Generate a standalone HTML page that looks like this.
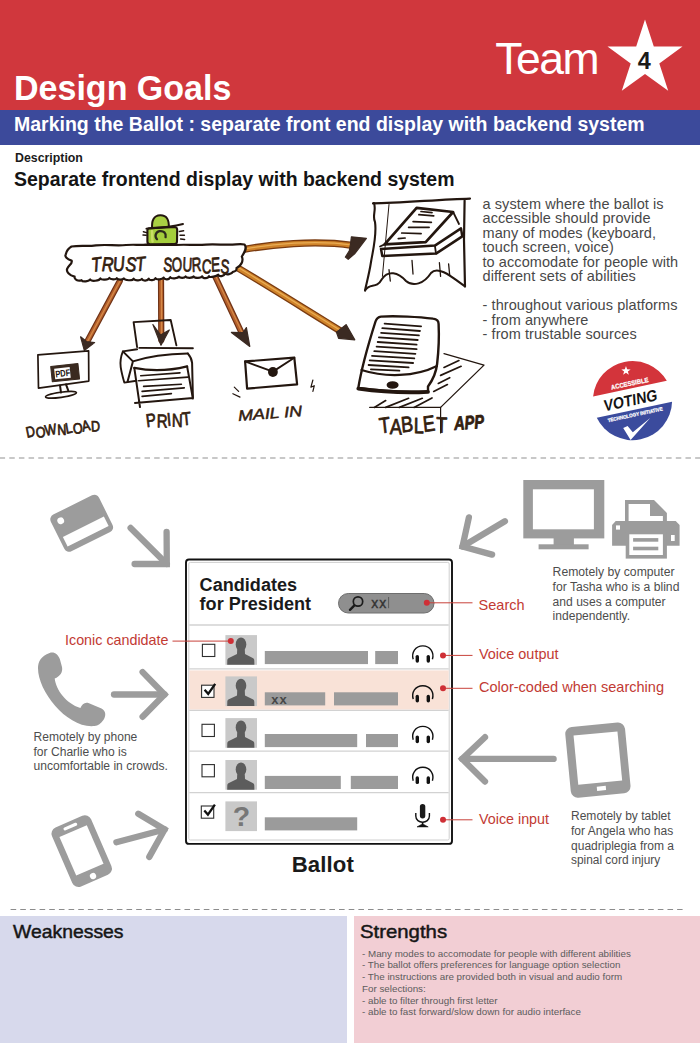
<!DOCTYPE html>
<html lang="en">
<head>
<meta charset="utf-8">
<title>Design Goals - Team 4</title>
<style>
html,body{margin:0;padding:0;}
body{width:700px;height:1050px;position:relative;overflow:hidden;background:#fff;font-family:"Liberation Sans",sans-serif;color:#111;}
.abs{position:absolute;white-space:nowrap;}
#red{left:0;top:0;width:700px;height:110.4px;background:#d0373d;}
#blue{left:0;top:110.4px;width:700px;height:34.2px;background:#3c4a9b;}
#h1{left:13.8px;top:68.6px;font-size:34.2px;font-weight:bold;color:#fff;line-height:38px;transform:scaleX(0.995);transform-origin:0 0;}
#team{left:495.3px;top:35.4px;font-size:44.5px;color:#fff;line-height:48px;letter-spacing:-1.5px;}
#h2{left:14px;top:112.8px;font-size:19.5px;font-weight:bold;color:#fff;line-height:22px;transform:scaleX(1.0);transform-origin:0 0;}
#desc{left:14.5px;top:150.8px;font-size:12.6px;font-weight:bold;line-height:14px;color:#1a1a1a;transform:scaleX(0.98);transform-origin:0 0;}
#h3{left:14px;top:168px;font-size:19.6px;font-weight:bold;line-height:22px;color:#141414;transform:scaleX(0.994);transform-origin:0 0;}
#para{left:482.5px;top:196.9px;font-size:14.5px;line-height:14.46px;color:#484848;white-space:pre;letter-spacing:.08px;}
#weak{left:0;top:916px;width:346.9px;height:126.7px;background:#d7d9ec;}
#strong{left:354.1px;top:916px;width:346px;height:126.7px;background:#f2ced4;}
.bt{font-size:17.7px;font-weight:normal;line-height:20px;color:#161616;-webkit-text-stroke:0.45px #161616;transform-origin:0 0;}
#stxt{left:362px;top:947.6px;font-size:9.8px;line-height:11.75px;color:#5c5c5c;white-space:pre;}
svg{position:absolute;left:0;top:0;}
</style>
</head>
<body>
<div id="red" class="abs"></div>
<div id="blue" class="abs"></div>
<div id="h1" class="abs">Design Goals</div>
<div id="team" class="abs">Team</div>
<div id="h2" class="abs">Marking the Ballot : separate front end display with backend system</div>
<div id="desc" class="abs">Description</div>
<div id="h3" class="abs">Separate frontend display with backend system</div>
<div id="para" class="abs">a system where the ballot is
accessible should provide
many of modes (keyboard,
touch screen, voice)
to accomodate for people with
different sets of abilities

- throughout various platforms
- from anywhere
- from trustable sources</div>


<div id="weak" class="abs"></div>
<div id="strong" class="abs"></div>
<div class="abs bt" style="left:12.6px;top:922.2px;transform:scaleX(1.095);">Weaknesses</div>
<div class="abs bt" style="left:360px;top:922.2px;transform:scaleX(1.15);">Strengths</div>
<div id="stxt" class="abs">- Many modes to accomodate for people with different abilities
- The ballot offers preferences for language option selection
- The instructions are provided both in visual and audio form
For selections:
- able to filter through first letter
- able to fast forward/slow down for audio interface</div>

<!--SVG-MAIN-->
<svg id="art" width="700" height="1050" viewBox="0 0 700 1050">
<line x1="0" y1="458" x2="700" y2="458" stroke="#b7b7b7" stroke-width="1.7" stroke-dasharray="5.5 4.16" stroke-dashoffset="0.4"/>
<line x1="10.6" y1="909.5" x2="682.6" y2="909.5" stroke="#8c8c8c" stroke-width="1" stroke-dasharray="5.6 4.06"/>
<!-- star -->
<g id="star">
<polygon fill="#fff" points="645,19.4 653.8,46.6 682.5,46.6 659.3,63.5 668.2,90.7 645,73.9 621.8,90.7 630.7,63.5 607.5,46.6 636.2,46.6"/>
<text x="644.2" y="68.6" text-anchor="middle" font-family="Liberation Sans, sans-serif" font-weight="bold" font-size="23.4" fill="#1a1a1a">4</text>
</g>
<!--SKETCH-START-->
<g id="sketch" fill="none" stroke="#23160f" stroke-width="2" stroke-linecap="round" stroke-linejoin="round" font-family="Liberation Sans, sans-serif">
<!-- marker arrows -->
<path d="M119.8 281 L86.2 343.5" stroke="#6e3216" stroke-width="6.2"/>
<path d="M161 278 L161.3 340" stroke="#6e3216" stroke-width="6.2"/>
<path d="M214.5 275 L243.6 337" stroke="#6e3216" stroke-width="6.2"/>
<path d="M237.9 268 C270 287 308 311 341.5 331.6" stroke="#7a3b10" stroke-width="7.2"/>
<path d="M242.1 249.8 C270 244.5 315 240 352 245.4" stroke="#7a3b10" stroke-width="7.2"/>
<path d="M119.8 281 L86.2 343.5" stroke="#b45f2b" stroke-width="3.8"/>
<path d="M161 278 L161.3 340" stroke="#b45f2b" stroke-width="3.8"/>
<path d="M214.5 275 L243.6 337" stroke="#b45f2b" stroke-width="3.8"/>
<path d="M237.9 268 C270 287 308 311 341.5 331.6" stroke="#cf8229" stroke-width="4.6"/>
<path d="M242.1 249.8 C270 244.5 315 240 352 245.4" stroke="#cf8229" stroke-width="4.6"/>
<path d="M119.8 281 L86.2 343.5" stroke="#d58a48" stroke-width="1.2" transform="translate(0.4 -0.4)"/>
<path d="M161 278 L161.3 340" stroke="#d58a48" stroke-width="1.2" transform="translate(0.4 -0.4)"/>
<path d="M214.5 275 L243.6 337" stroke="#d58a48" stroke-width="1.2" transform="translate(0.4 -0.4)"/>
<path d="M237.9 268 C270 287 308 311 341.5 331.6" stroke="#e9ad55" stroke-width="1.2" transform="translate(0.4 -0.4)"/>
<path d="M242.1 249.8 C270 244.5 315 240 352 245.4" stroke="#e9ad55" stroke-width="1.2" transform="translate(0.4 -0.4)"/>
<g fill="#3b2a22" stroke="#3b2a22" stroke-width="1.2">
<path d="M80.6 336.8 L86.5 341.5 L94.6 342.6 L84.3 350.4 Z"/>
<path d="M152.9 324.6 L160.6 335 L169.3 330 L161 345.2 Z"/>
<path d="M231.4 332.4 L243 332.6 L246.4 327.6 L249.8 346.4 Z"/>
<path d="M336.4 332.1 L346.1 324.6 L354.8 339.8 L338.6 338.3 Z"/>
<path d="M351.4 236.8 L366.4 238.3 L357.9 249.6 L354.6 253.9 L348.2 259.3 L345.4 257.1 L349.3 250.7 L350.5 244 Z"/>
</g>
<!-- cloud -->
<path fill="#fff" stroke-width="2.2" d="M71.5 246.5 C80 245.2 88 246.6 96 245.4 C106 244.2 116 246 126 245 C133 244.4 140 245.2 146 244.6 L176 245 C186 244.2 196 245.6 206 244.6 C216 243.8 226 245.4 236 244.4 C240 244 243 244.2 244.5 244.5 C247.5 248 244.5 252.5 241.8 256.5 C244 261 240.5 266.5 236.5 268 C237 270.5 235 271.5 233 271.8 C232.0 273.9 226.2 275.4 225.2 273.3 C224.2 276.1 219.1 277.4 218.1 274.7 C217.1 276.3 210.0 277.9 209.0 276.2 C208.0 278.8 203.2 278.9 202.2 276.3 C201.2 278.2 194.6 278.4 193.6 276.4 C192.6 278.2 186.6 278.3 185.6 276.5 C184.6 278.3 179.9 278.3 178.9 276.6 C177.9 278.6 171.3 279.1 170.3 277.2 C169.3 279.8 164.7 280.2 163.7 277.6 C162.7 279.5 156.5 280.0 155.5 278.2 C154.5 280.5 149.7 281.0 148.7 278.7 C147.7 281.0 142.8 281.3 141.8 278.9 C140.8 281.0 134.6 280.7 133.6 278.7 C132.6 280.9 124.8 280.7 123.8 278.4 C122.8 280.1 117.8 279.9 116.8 278.2 C115.8 279.9 110.4 279.6 109.4 278.0 C108.4 279.8 101.4 280.3 100.4 278.5 C99.4 280.9 91.1 281.8 90.1 279.4 C89.1 281.5 82.5 282.3 81.5 280.2 C78 281.5 74 279.5 74.6 276.6 C69.5 275.5 65.6 271.5 67.4 268.4 C68.8 265.2 73 263.2 71.6 260.6 C67 259.4 64.4 256.6 65.8 254.2 C66.8 250 69 248 71.5 246.5 Z"/>
<!-- lock -->
<path d="M152.2 228.4 C151.4 220.6 153.8 215.4 160.2 215.2 C166.8 215 169.2 220 168.8 227.6 Z" fill="#a9d043" stroke-width="2"/>
<path d="M149.4 228.2 C156 227.6 168 227.4 174.8 227 C176.6 227.2 177.2 228.4 177.2 230 L177 241.4 C177 243 176 244 174.2 244 L150.2 244.4 C148.4 244.4 147.4 243.4 147.4 241.6 L147.4 230.4 C147.4 229 148 228.4 149.4 228.2 Z" fill="#a4cd3c" stroke-width="2.1"/>
<path d="M152 231 C152.6 235 151.8 239 152.6 241.6" stroke="#c9de66" stroke-width="2.4"/>
<path d="M146.4 228.6 C158 228 170 227.6 183 224" stroke-width="1.9"/>
<path d="M157 239.2 C154.4 236.6 155.4 232.2 159.4 231.2 C163.6 230.4 166.4 233.2 165.6 237.2" stroke-width="2.3" stroke="#2d2a1c"/>
<path d="M179.4 231.4 L183.6 230.8 M180 235.2 L184.4 235.2 M180.6 239 L184.6 239.4 M143.4 231.8 L146.4 232.6 M143 235 L146.2 235.2" stroke-width="1.5"/>
<g fill="#33200f" stroke="#33200f" stroke-width="0.8" stroke-linejoin="round">
<text x="92" y="272" font-size="20" textLength="54" lengthAdjust="spacingAndGlyphs" rotate="-5 3 -4 6 -3" dy="0 -0.8 1 -0.6 0.8" font-style="italic" transform="rotate(-1.5 92 272)">TRUST</text>
<text x="163" y="271" font-size="20" textLength="66" lengthAdjust="spacingAndGlyphs" rotate="5 -4 3 -5 4 -3 6" dy="0 0.8 -1 0.8 0.6 -1 0.8" transform="rotate(0.8 163 271)">SOURCES</text>
</g>
<!-- monitor -->
<path d="M37.9 354.8 L88.6 350.9 L88.8 381.1 L38.5 388.2 Z" stroke-width="1.7"/>
<path d="M60 385.4 L61 392.6 M66 384.4 L68.2 390.4"/>
<ellipse cx="61" cy="394.8" rx="15.6" ry="2.6" transform="rotate(-8 61 394.8)" stroke-width="1.6"/>
<g transform="rotate(-6 65 372.6)">
<rect x="51.4" y="365" width="27.4" height="15.4" fill="#3a2a20" stroke="#3a2a20" stroke-width="1"/>
<rect x="54.6" y="367.6" width="15.6" height="10.6" fill="#fff" stroke="none"/>
<text x="55.2" y="376.4" font-size="9.6" font-weight="bold" fill="#23160f" stroke="none" textLength="15" lengthAdjust="spacingAndGlyphs">PDF</text>
</g>
<text x="27" y="437.8" font-size="15" fill="#33200f" stroke="#33200f" stroke-width="0.75" textLength="73.5" lengthAdjust="spacingAndGlyphs" rotate="-6 4 -3 5 -4 3 -5 4" dy="0 0.8 -0.8 0.6 -0.4 0.8 -1 0.6" transform="rotate(-6.2 27 437.8)">DOWNLOAD</text>
<!-- printer -->
<path d="M137.1 347.1 L133.6 322.1 L170.7 320 L176.4 345.4" stroke-width="1.9"/>
<path d="M139.3 347.9 L192.9 348.3 M122.9 351.4 L137.1 349.3" stroke-width="1.9"/>
<path d="M122.9 351.4 C120.6 357 120 362 120.7 367.1 C121.6 373 123 378 124.3 382.6 L136.4 380.7" stroke-width="1.9"/>
<path d="M123.6 352.1 L132.9 361.4 C150 356 170 354 187.9 353.6 M132.9 361.4 L127.6 381.6"/>
<path d="M187.9 353.6 C190.6 356.6 191.8 359.6 192.1 362.9 L192.9 397.6"/>
<path d="M134.3 367.9 C152 371.6 170 370.6 187.1 366.4" stroke-width="2.3"/>
<path d="M134.3 367.9 L140 407.1 M187.1 366.4 L192.9 398.6 M135 402.9 L192.9 397.9"/>
<path d="M140.7 375.7 L180 372.9 M138.6 380.7 L187.9 377.1 M143.6 386.4 L181.4 384.3 M142.1 391.4 L184.3 387.9 M142.1 396.4 L171.4 393.6" stroke-width="1.6"/>
<text x="146.8" y="427.2" font-size="18.5" fill="#33200f" stroke="#33200f" stroke-width="0.75" textLength="45" lengthAdjust="spacingAndGlyphs" rotate="-5 4 -3 5 -3" dy="0 0.6 -0.8 0.8 -0.4" transform="rotate(-3 146.8 427.2)">PRINT</text>
<!-- envelope -->
<path d="M245.1 361.4 L294.3 357.7 L297.1 384.3 L247.1 388.6 Z" stroke-width="2.2"/>
<path d="M245.1 361.4 L272.9 371.6 L294.3 357.7" stroke-width="1.9"/>
<circle cx="272.9" cy="372" r="4.9" fill="#23160f" stroke="none"/>
<path d="M234.3 387.1 L238.6 391.4 M232.9 393.7 L240 397.1 M312.9 380 L310.9 387.1 L314.3 385.7 L312.9 391.4" stroke-width="1.2"/>
<text x="238.5" y="421" font-size="15" font-style="italic" fill="#33200f" stroke="#33200f" stroke-width="0.5" textLength="64" lengthAdjust="spacingAndGlyphs" transform="rotate(-4.5 238.5 421)">MAIL IN</text>
<!-- booth -->
<path d="M373 203.4 C400 203 440 199.5 470 198.6" stroke-width="2.2"/>
<path d="M464.6 200.5 L464 240 L465 286.5" stroke-width="2.2"/>
<path d="M374 203 C376.5 210 372 216 375 222 C377 235 373 250 371 262 C369 275 366 285 365 290.5" stroke-width="2.1"/>
<path d="M365 290.5 C370 282 376 290 382 279 C388 270 398 272 406 281 C413 287 424 284 431 273 C438 265 452 277 465 286.5" stroke-width="2"/>
<path d="M389 204.5 L382.4 276.4" stroke-width="1"/>
<path d="M412 260.4 L413 274 M439.4 262.7 L440.6 276.4 M448.6 263.9 L449.7 275.3 M389 269.6 L390.3 281" stroke-width="1.3"/>
<path d="M416.6 207.9 L453.1 212 L425.7 242.1 L384.6 244.4 Z" stroke-width="2.7"/>
<path d="M418.9 214.7 L433.7 215.9 M413.1 221.6 L431.4 222.3 M408.6 227.3 L429.1 227.3 M401.7 233 L421.1 233.7 M398.3 238.7 L405.1 238 M421 211.5 L432 212.6" stroke-width="1.7"/>
<path d="M381 249 L434.9 245.6 L461 228.4 L462.3 236.4 L436 253.6 L382.3 255.9 Z" stroke-width="2.5"/>
<path d="M434.9 245.6 L436 253.6 M453.1 212 L459 224 M380 246.5 L384.6 244.4" stroke-width="1.8"/>
<!-- tablet -->
<path d="M444 353.7 L484 365.1 L440.6 407.4 L369.7 407.4" stroke-width="1.3"/>
<path d="M444 367.4 L458.9 360.6 M440.6 375.4 L461.1 366.3 M438.3 383.4 L449.7 377.7 M433.7 391.4 L447.4 384.6 M385.7 407.4 L408.6 398.3 M399.4 407.4 L422.3 398.3 M374.3 407.4 L385.7 400.6 M414 407.4 L432 398" stroke-width="1.7"/>
<path d="M440.6 407.4 L440.6 433" stroke-width="1.2"/>
<path fill="#fff" d="M381 316.6 C395 315.5 420 317 433 318.6 C437 319 438.6 320.5 438.6 324 C439.3 338 438.5 352 437.1 364 C436 374 432 381 428 386.5 L428 391.4 C405 392.5 380 391 358.3 388 C362 365 369 342 375.5 321.5 C376.5 318.5 378 317 381 316.6 Z" stroke-width="2.4"/>
<path d="M358.3 388.6 C380 391.6 405 393.1 428 391.8" stroke-width="3.8"/>
<path d="M361.5 370 C385 377.5 415 377 437 366" stroke-width="2.2"/>
<ellipse cx="392.6" cy="385" rx="6" ry="3.8" fill="#23160f" stroke="none"/>
<path d="M384.6 323.6 L421.1 326.4 M382.3 328.2 L420 331 M381.1 332.8 L418.9 335.4 M378.9 337.4 L417.7 340 M377.7 342 L416.6 344.6 M376.6 346.6 L416.6 349.2 M374.3 351.2 L415.4 353.8 M372 355.8 L414.3 358.4 M369.7 360.4 L413.1 363 M368.6 365 L408.6 367.4 M370.9 369.4 L399.4 370.6" stroke-width="1.8"/>
<g fill="#33200f" stroke="#33200f" stroke-width="0.8" stroke-linejoin="round">
<text x="380" y="433.5" font-size="22" textLength="67" lengthAdjust="spacingAndGlyphs" rotate="-5 4 -4 3 -5 4" dy="0 0.8 -1 0.8 -0.5 0.6" transform="rotate(-2 380 433.5)">TABLET</text>
<text x="454.5" y="430" font-size="19" font-weight="bold" font-style="italic" textLength="30" lengthAdjust="spacingAndGlyphs" transform="rotate(-4 454.5 430)">APP</text>
</g>
</g>
<!--SKETCH-END-->
<g id="badge" transform="translate(632.5 400.6) rotate(-12)" font-family="Liberation Sans, sans-serif" font-weight="bold">
<circle r="39.6" fill="#fff"/>
<path d="M-37.67 -12.2 A39.6 39.6 0 0 1 37.67 -12.2 Z" fill="#d3343b"/>
<path d="M-38.49 9.3 A39.6 39.6 0 0 0 38.49 9.3 Z" fill="#3b4b9d"/>
<polygon points="-0.20,-35.30 0.95,-31.98 4.46,-31.91 1.65,-29.80 2.68,-26.44 -0.20,-28.45 -3.08,-26.44 -2.05,-29.80 -4.86,-31.91 -1.35,-31.98" fill="#fff" transform="rotate(12 -0.2 -30.4)"/>
<text x="0.8" y="-15" text-anchor="middle" font-size="6.6" fill="#fff" stroke="#fff" stroke-width="0.25" textLength="38" lengthAdjust="spacingAndGlyphs">ACCESSIBLE</text>
<text x="-2" y="4.8" text-anchor="middle" font-size="15.8" fill="#141414" textLength="54.5" lengthAdjust="spacingAndGlyphs" transform="skewX(-8)">VOTING</text>
<text x="-0.3" y="16" text-anchor="middle" font-size="5" fill="#fff" stroke="#fff" stroke-width="0.25" textLength="56" lengthAdjust="spacingAndGlyphs">TECHNOLOGY INITIATIVE</text>

</g>
<polygon points="623.2,428.1 630.6,439.9 650.2,417.9 632.8,432.3 627.6,425.9" fill="#fff"/>
<g id="icons" fill="#9c9c9c" stroke="none">
<g transform="translate(81.7 523.3) rotate(-26.4) scale(1.06)"><rect x="-25.4" y="-19.3" width="50.8" height="38.6" rx="5" fill="#9c9c9c"/><rect x="-21.6" y="3.6" width="43.2" height="10" fill="#fff"/><circle cx="-16.7" cy="-10.9" r="3.2" fill="#fff"/></g>
<g fill="none" stroke="#9c9c9c" stroke-width="6.3" stroke-linecap="round" stroke-linejoin="miter"><line x1="130.6" y1="527.9" x2="166.8" y2="564"/><polyline points="166.6,532 166.8,564 134.6,564"/></g>
<g fill="none" stroke="#9c9c9c" stroke-width="6.3" stroke-linecap="round" stroke-linejoin="miter"><line x1="114" y1="694.5" x2="164.5" y2="694.5"/><polyline points="142.6,672.1 164.5,694.5 142.6,716.8"/></g>
<g fill="none" stroke="#9c9c9c" stroke-width="6.3" stroke-linecap="round" stroke-linejoin="miter"><line x1="116.4" y1="842.2" x2="164.6" y2="829.5"/><polyline points="138.3,813.7 164.6,829.5 149.3,856.9"/></g>
<g fill="none" stroke="#9c9c9c" stroke-width="6.3" stroke-linecap="round" stroke-linejoin="miter"><line x1="504.9" y1="521.2" x2="462.5" y2="546.5"/><polyline points="468.9,517.4 462.5,546.5 492.1,554.6"/></g>
<g fill="none" stroke="#9c9c9c" stroke-width="6.3" stroke-linecap="round" stroke-linejoin="miter"><line x1="553.6" y1="758.9" x2="462.2" y2="758.9"/><polyline points="485,737.2 462.2,758.9 485,781.6"/></g>
<path d="M49.6 652.9 C54 651.3 58 654 59.9 659.3 L62 667 C63 672.5 60 676.3 54.7 678.6 C56 690 66 703.5 80.4 708.1 C82 704 85 701.6 89 703.2 L101.5 708.6 C106 710.8 106.2 716 103.6 719.7 C101 723.5 98 725.6 94.6 726.1 C68 729 38 692 38 668.3 C38 661.5 41 656 49.6 652.9 Z"/>
<g transform="translate(81.7 851.1) rotate(-23.5) scale(1.05)"><rect x="-20.3" y="-30.6" width="40.6" height="61.2" rx="6.4" fill="#9c9c9c"/><rect x="-14.1" y="-20.7" width="28.4" height="40" fill="#fff"/><rect x="-7.6" y="-27.2" width="14" height="3" rx="1.5" fill="#fff"/><circle cx="0.4" cy="26.1" r="3" fill="#fff"/></g>
<rect x="523.3" y="480" width="81" height="58.4" fill="#9c9c9c"/><rect x="532.9" y="489.3" width="61" height="40" fill="#fff"/><rect x="553.6" y="538" width="20.3" height="7" fill="#9c9c9c"/><rect x="538.6" y="544.3" width="50" height="5" fill="#9c9c9c"/>
<path d="M625 500 L654 500 L666.9 512.9 L666.9 522 L625 522 Z"/><path d="M628.6 503.9 L650 503.9 L650 516.1 L662.9 516.1 L662.9 521.5 L628.6 521.5 Z" fill="#fff"/><path d="M612.1 525 L615.7 521.1 L675.7 521.1 L679.6 525 L679.6 545.7 L612.1 545.7 Z"/><rect x="616" y="525.4" width="4" height="4.2" fill="#fff"/><rect x="671" y="535" width="3.7" height="6" fill="#fff"/><rect x="625.7" y="532.9" width="41.2" height="25.7" fill="#9c9c9c"/><rect x="629.3" y="534.3" width="33.6" height="20.7" fill="#fff"/><rect x="633.1" y="538.1" width="25.2" height="3.6" fill="#9c9c9c"/><rect x="633.1" y="546.7" width="25.2" height="3.6" fill="#9c9c9c"/>
<g transform="translate(597.9 760.1) rotate(-5.5)"><rect x="-30" y="-35.5" width="60" height="71" rx="7" fill="#9c9c9c"/><rect x="-21.9" y="-26.7" width="44.1" height="49.3" fill="#fff"/><rect x="-3.7" y="26.4" width="9" height="4.2" fill="#fff"/></g>
</g>
<g id="notes" font-family="Liberation Sans, sans-serif" font-size="12.5" fill="#4d4d4d">
<text x="552.6" y="576.4" textLength="122" lengthAdjust="spacingAndGlyphs">Remotely by computer</text>
<text x="552.6" y="591.1" textLength="126.8" lengthAdjust="spacingAndGlyphs">for Tasha who is a blind</text>
<text x="552.6" y="605.7" textLength="113" lengthAdjust="spacingAndGlyphs">and uses a computer</text>
<text x="552.6" y="620.2" textLength="77.5" lengthAdjust="spacingAndGlyphs">independently.</text>
<text x="33.5" y="740.8" textLength="103.8" lengthAdjust="spacingAndGlyphs">Remotely by phone</text>
<text x="33.5" y="755.6" textLength="93.3" lengthAdjust="spacingAndGlyphs">for Charlie who is</text>
<text x="33.5" y="770.4" textLength="134.3" lengthAdjust="spacingAndGlyphs">uncomfortable in crowds.</text>
<text x="571" y="820.4" textLength="99.6" lengthAdjust="spacingAndGlyphs">Remotely by tablet</text>
<text x="571" y="835" textLength="102.2" lengthAdjust="spacingAndGlyphs">for Angela who has</text>
<text x="571" y="849.6" textLength="103" lengthAdjust="spacingAndGlyphs">quadriplegia from a</text>
<text x="571" y="864.2" textLength="89.2" lengthAdjust="spacingAndGlyphs">spinal cord injury</text>
</g>
<g id="ballot" font-family="Liberation Sans, sans-serif">
<rect x="186" y="559.5" width="266" height="284.4" rx="3" fill="#fff" stroke="#111" stroke-width="1.9"/>
<rect x="188.8" y="562.4" width="260.4" height="277.6" rx="1.5" fill="none" stroke="#cfcfcf" stroke-width="1"/>
<rect x="189.3" y="670.4" width="259.4" height="39.2" fill="#f9e2d7"/>
<line x1="189.3" y1="625" x2="448.7" y2="625" stroke="#d2d2d2" stroke-width="1.3"/>
<line x1="189.3" y1="668.9" x2="448.7" y2="668.9" stroke="#d2d2d2" stroke-width="1.3"/>
<line x1="189.3" y1="710.4" x2="448.7" y2="710.4" stroke="#d2d2d2" stroke-width="1.3"/>
<line x1="189.3" y1="751.2" x2="448.7" y2="751.2" stroke="#d2d2d2" stroke-width="1.3"/>
<line x1="189.3" y1="792.6" x2="448.7" y2="792.6" stroke="#d2d2d2" stroke-width="1.3"/>
<text x="199.6" y="591.1" font-size="18.3" font-weight="bold" fill="#1a1a1a" textLength="97.5" lengthAdjust="spacingAndGlyphs">Candidates</text>
<text x="199.6" y="610.4" font-size="18.3" font-weight="bold" fill="#1a1a1a" textLength="111.5" lengthAdjust="spacingAndGlyphs">for President</text>
<rect x="338.5" y="593.5" width="95.5" height="19.5" rx="9.75" fill="#8f8f8f" stroke="#6e6e6e" stroke-width="1"/>
<circle cx="358" cy="601.5" r="4.7" fill="none" stroke="#1c1c1c" stroke-width="1.7"/><line x1="354.4" y1="605.4" x2="350" y2="609.8" stroke="#1c1c1c" stroke-width="2.4" stroke-linecap="round"/>
<text x="371.3" y="607.6" font-size="14" fill="#333" stroke="#333" stroke-width="0.35" letter-spacing="1">xx</text><line x1="388.6" y1="597" x2="388.6" y2="608.2" stroke="#555" stroke-width="0.9"/>
<rect x="202.4" y="644.3" width="12.4" height="12.2" fill="#fff" stroke="#2e2e2e" stroke-width="1.1"/>
<rect x="225.4" y="635.1" width="31.6" height="29.7" fill="#c9c9c9"/>
<g transform="translate(225.6 635.1)" fill="#5c5c5c"><ellipse cx="15.4" cy="9.4" rx="5.3" ry="7"/><path d="M11.6 14.5 L19.2 14.5 L19.4 19 L27.6 23.2 C28.4 23.8 28.7 24.6 28.7 25.6 L28.8 29.7 L1.6 29.7 L1.7 25.6 C1.7 24.6 2 23.8 2.8 23.2 L11.4 19 Z"/></g>
<rect x="264.8" y="651.0" width="103.2" height="13.1" fill="#9b9b9b"/>
<rect x="375.2" y="651.0" width="22.8" height="13.1" fill="#9b9b9b"/>
<g transform="translate(422.8 654.3)" fill="none" stroke="#111"><path d="M-9.6 5 C-11.6 -1.5 -7.6 -8.4 0 -8.4 C7.6 -8.4 11.6 -1.5 9.6 5" stroke-width="1.4"/><rect x="-7.2" y="0.6" width="3.4" height="7.8" rx="1.7" fill="#111" stroke="none"/><rect x="3.8" y="0.6" width="3.4" height="7.8" rx="1.7" fill="#111" stroke="none"/></g>
<rect x="201.6" y="685.2" width="12.4" height="12.2" fill="#fff" stroke="#2e2e2e" stroke-width="1.1"/>
<path d="M204.6 689.8 L208.2 693.8 L215.2 683.8" fill="none" stroke="#111" stroke-width="2.3" stroke-linejoin="miter"/>
<rect x="225.4" y="676.4" width="31.6" height="29.7" fill="#c9c9c9"/>
<g transform="translate(225.6 676.4)" fill="#5c5c5c"><ellipse cx="15.4" cy="9.4" rx="5.3" ry="7"/><path d="M11.6 14.5 L19.2 14.5 L19.4 19 L27.6 23.2 C28.4 23.8 28.7 24.6 28.7 25.6 L28.8 29.7 L1.6 29.7 L1.7 25.6 C1.7 24.6 2 23.8 2.8 23.2 L11.4 19 Z"/></g>
<rect x="264.8" y="692.3" width="60.4" height="13.1" fill="#9b9b9b"/>
<rect x="334" y="692.3" width="64.0" height="13.1" fill="#9b9b9b"/>
<text x="271.3" y="704.2" font-size="13" font-weight="bold" fill="#474747" letter-spacing="0.9">xx</text>
<g transform="translate(422.8 694.1)" fill="none" stroke="#111"><path d="M-9.6 5 C-11.6 -1.5 -7.6 -8.4 0 -8.4 C7.6 -8.4 11.6 -1.5 9.6 5" stroke-width="1.4"/><rect x="-7.2" y="0.6" width="3.4" height="7.8" rx="1.7" fill="#111" stroke="none"/><rect x="3.8" y="0.6" width="3.4" height="7.8" rx="1.7" fill="#111" stroke="none"/></g>
<rect x="202.0" y="724.3" width="12.4" height="12.2" fill="#fff" stroke="#2e2e2e" stroke-width="1.1"/>
<rect x="225.4" y="718.1" width="31.6" height="29.7" fill="#c9c9c9"/>
<g transform="translate(225.6 718.1)" fill="#5c5c5c"><ellipse cx="15.4" cy="9.4" rx="5.3" ry="7"/><path d="M11.6 14.5 L19.2 14.5 L19.4 19 L27.6 23.2 C28.4 23.8 28.7 24.6 28.7 25.6 L28.8 29.7 L1.6 29.7 L1.7 25.6 C1.7 24.6 2 23.8 2.8 23.2 L11.4 19 Z"/></g>
<rect x="264.8" y="734.0" width="92.4" height="13.1" fill="#9b9b9b"/>
<rect x="366" y="734.0" width="32.0" height="13.1" fill="#9b9b9b"/>
<g transform="translate(422.8 734.8)" fill="none" stroke="#111"><path d="M-9.6 5 C-11.6 -1.5 -7.6 -8.4 0 -8.4 C7.6 -8.4 11.6 -1.5 9.6 5" stroke-width="1.4"/><rect x="-7.2" y="0.6" width="3.4" height="7.8" rx="1.7" fill="#111" stroke="none"/><rect x="3.8" y="0.6" width="3.4" height="7.8" rx="1.7" fill="#111" stroke="none"/></g>
<rect x="202.0" y="764.6" width="12.4" height="12.2" fill="#fff" stroke="#2e2e2e" stroke-width="1.1"/>
<rect x="225.4" y="760.0" width="31.6" height="29.7" fill="#c9c9c9"/>
<g transform="translate(225.6 760.0)" fill="#5c5c5c"><ellipse cx="15.4" cy="9.4" rx="5.3" ry="7"/><path d="M11.6 14.5 L19.2 14.5 L19.4 19 L27.6 23.2 C28.4 23.8 28.7 24.6 28.7 25.6 L28.8 29.7 L1.6 29.7 L1.7 25.6 C1.7 24.6 2 23.8 2.8 23.2 L11.4 19 Z"/></g>
<rect x="264.8" y="775.9" width="76.0" height="13.1" fill="#9b9b9b"/>
<rect x="350.8" y="775.9" width="47.2" height="13.1" fill="#9b9b9b"/>
<g transform="translate(422.8 775.7)" fill="none" stroke="#111"><path d="M-9.6 5 C-11.6 -1.5 -7.6 -8.4 0 -8.4 C7.6 -8.4 11.6 -1.5 9.6 5" stroke-width="1.4"/><rect x="-7.2" y="0.6" width="3.4" height="7.8" rx="1.7" fill="#111" stroke="none"/><rect x="3.8" y="0.6" width="3.4" height="7.8" rx="1.7" fill="#111" stroke="none"/></g>
<rect x="201.3" y="806.0" width="12.4" height="12.2" fill="#fff" stroke="#2e2e2e" stroke-width="1.1"/>
<path d="M204.3 810.6 L207.9 814.6 L214.9 804.6" fill="none" stroke="#111" stroke-width="2.3" stroke-linejoin="miter"/>
<rect x="225.4" y="801.4" width="31.6" height="29.7" fill="#c9c9c9"/>
<text x="241.4" y="825.8" text-anchor="middle" font-size="28.5" font-weight="bold" fill="#777">?</text>
<rect x="264.8" y="817.3" width="92.4" height="13.1" fill="#9b9b9b"/>
<g transform="translate(422.6 815.3)" fill="none" stroke="#111"><rect x="-2.7" y="-11.4" width="5.4" height="14.6" rx="2.7" fill="#1a1a1a" stroke="none"/><path d="M-6.8 -2.2 L-6.8 0.6 C-6.8 9 6.8 9 6.8 0.6 L6.8 -2.2" stroke-width="1.4"/><line x1="0" y1="7" x2="0" y2="10" stroke-width="1.6"/><path d="M-5.6 11.6 L-1.2 9.2 L1.2 9.2 L5.6 11.6 Z" fill="#111" stroke="#111" stroke-width="0.6"/></g>
<text x="322.8" y="872.2" text-anchor="middle" font-size="22.2" font-weight="bold" fill="#1a1a1a" letter-spacing="0.1">Ballot</text>
</g>
<g id="callouts" font-family="Liberation Sans, sans-serif" font-size="14.5" fill="#c23a33" stroke="#c8423b">
<line x1="426.8" y1="602.8" x2="472.5" y2="602.8" stroke-width="1"/><circle cx="426.8" cy="602.8" r="3" stroke="none" fill="#cf2f36"/>
<text x="478.6" y="609.7" stroke="none" textLength="46" lengthAdjust="spacingAndGlyphs">Search</text>
<line x1="443" y1="655.4" x2="472.5" y2="655.4" stroke-width="1"/><circle cx="443" cy="655.4" r="3" stroke="none" fill="#cf2f36"/>
<text x="479" y="658.6" stroke="none" textLength="79.5" lengthAdjust="spacingAndGlyphs">Voice output</text>
<line x1="443" y1="688.3" x2="472.5" y2="688.3" stroke-width="1"/><circle cx="443" cy="688.3" r="3" stroke="none" fill="#cf2f36"/>
<text x="479" y="692" stroke="none" textLength="185" lengthAdjust="spacingAndGlyphs">Color-coded when searching</text>
<line x1="443" y1="819.8" x2="472.5" y2="819.8" stroke-width="1"/><circle cx="443" cy="819.8" r="3" stroke="none" fill="#cf2f36"/>
<text x="479" y="823.6" stroke="none" textLength="70" lengthAdjust="spacingAndGlyphs">Voice input</text>
<line x1="230.8" y1="641.1" x2="172.5" y2="641.1" stroke-width="1"/><circle cx="230.8" cy="641.1" r="3" stroke="none" fill="#cf2f36"/>
<text x="65" y="645.2" stroke="none" textLength="103.5" lengthAdjust="spacingAndGlyphs">Iconic candidate</text>
</g>
</svg>
</body>
</html>
